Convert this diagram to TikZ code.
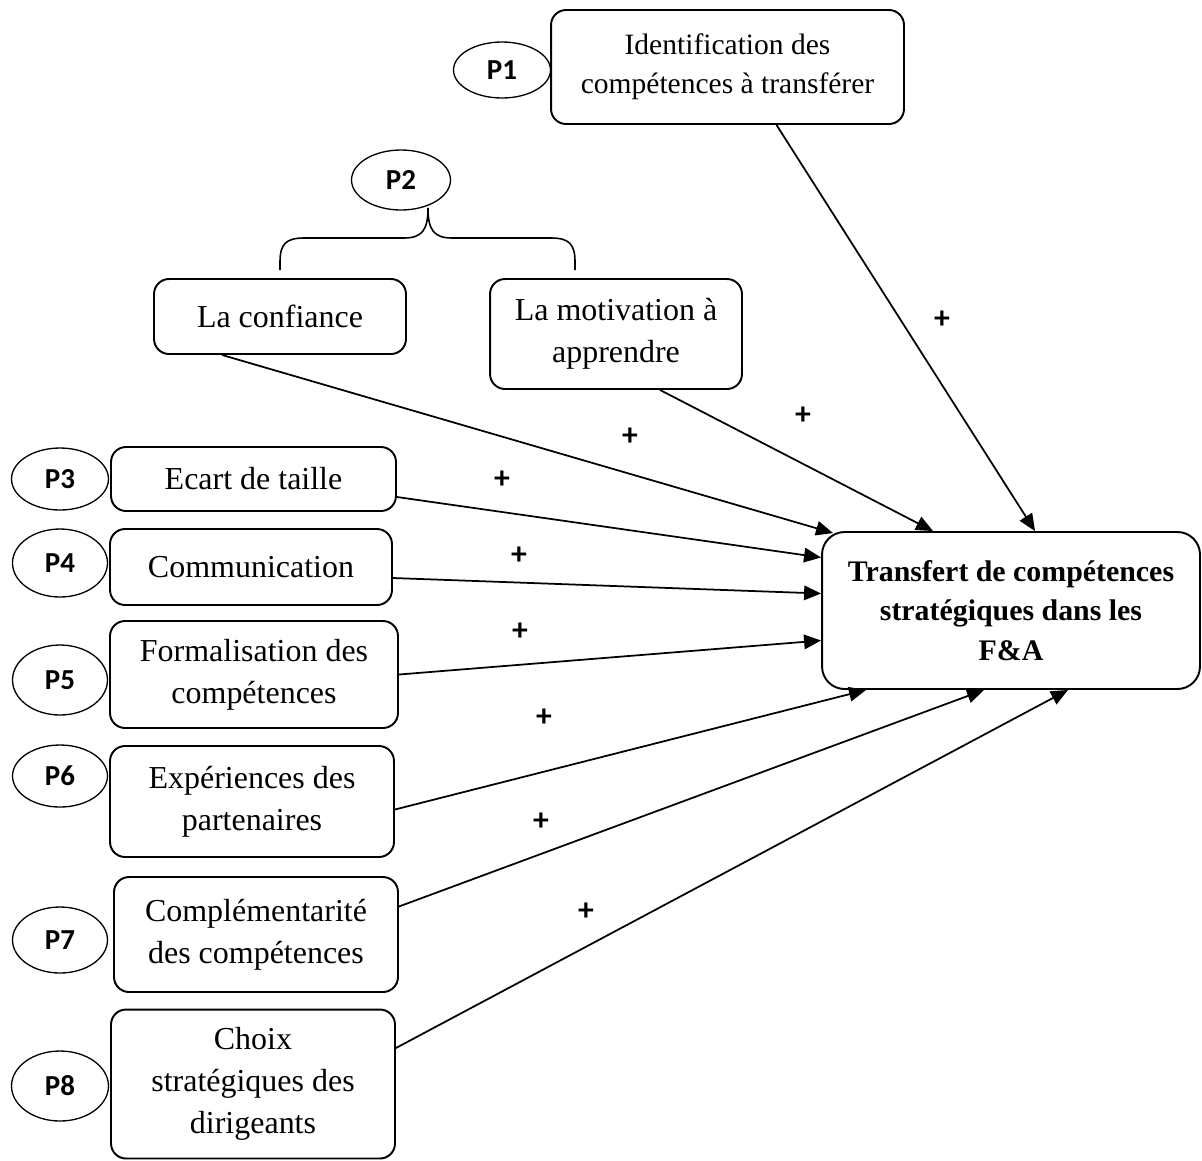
\documentclass[tikz,border=0pt]{standalone}
\usepackage{fontspec}
\setmainfont{Liberation Serif}
\newfontfamily\labfont{Carlito}
\usepackage{tikz}
\usetikzlibrary{positioning,arrows.meta,calc,shapes.geometric}

\begin{document}
\begin{tikzpicture}[
    x=0.02cm, y=-0.02cm,
    box/.style={draw, line width=1.1pt, rounded corners=3mm, align=center, inner sep=2pt, font=\fontsize{18.2}{24}\selectfont},
    goal/.style={box, rounded corners=4.5mm, font=\fontsize{17}{22.7}\selectfont\bfseries},
    tag/.style={draw, ellipse, line width=0.75pt, inner sep=0pt, font=\labfont\fontsize{16.5}{18}\selectfont\bfseries},
    sign/.style={inner sep=0pt, font=\labfont\fontsize{18}{18}\selectfont\bfseries},
    brace/.style={line width=0.9pt},
    arr/.style={-{Triangle[length=3.4mm, width=2.9mm]}, line width=1pt}
]
    \useasboundingbox (0,0) rectangle (1202,1160);

    % Target
    \node[goal, minimum width=7.56cm, minimum height=3.14cm] (target) at (1011,610.5) {Transfert de compétences\\stratégiques dans les\\F\&A};

    % Top factors
    \node[box, minimum width=7.06cm, minimum height=2.28cm, font=\fontsize{16.8}{22}\selectfont] (ident) at (727.5,67) {Identification des\\compétences à transférer};
    \node[tag, minimum width=1.94cm, minimum height=1.12cm] (p1) at (502,70) {P1};

    \node[box, minimum width=5.04cm, minimum height=1.5cm] (confiance) at (280,316.5) {La confiance};
    \node[box, minimum width=5.04cm, minimum height=2.2cm] (motivation) at (616,334) {La motivation à\\apprendre};
    \node[tag, minimum width=1.98cm, minimum height=1.2cm] (p2) at (401,180) {P2};
    \coordinate (brtip) at (428,208);
    \draw[brace] (280,270) -- (280,262) .. controls (280,244) and (286,238) .. (304,238) -- (404,238)
        .. controls (422,238) and (428,230) .. (brtip)
        .. controls (428,230) and (434,238) .. (452,238) -- (551,238)
        .. controls (569,238) and (575,244) .. (575,262) -- (575,270);

    % Left factors
    \node[box, minimum width=5.7cm, minimum height=1.28cm] (ecart) at (253.5,479) {Ecart de taille};
    \node[box, minimum width=5.64cm, minimum height=1.52cm] (comm) at (251,567) {Communication};
    \node[box, minimum width=5.76cm, minimum height=2.14cm] (formal) at (254,674.5) {Formalisation des\\compétences};
    \node[box, minimum width=5.68cm, minimum height=2.22cm] (exper) at (252,801.5) {Expériences des\\partenaires};
    \node[box, minimum width=5.68cm, minimum height=2.3cm] (compl) at (256,934.5) {Complémentarité\\des compétences};
    \node[box, minimum width=5.68cm, minimum height=2.98cm] (choix) at (253,1084) {Choix\\stratégiques des\\dirigeants};

    \node[tag, minimum width=1.94cm, minimum height=1.24cm] (p3) at (60,479) {P3};
    \node[tag, minimum width=1.9cm, minimum height=1.36cm] (p4) at (60,563) {P4};
    \node[tag, minimum width=1.9cm, minimum height=1.4cm] (p5) at (60,680) {P5};
    \node[tag, minimum width=1.9cm, minimum height=1.24cm] (p6) at (60,776) {P6};
    \node[tag, minimum width=1.9cm, minimum height=1.32cm] (p7) at (60,940) {P7};
    \node[tag, minimum width=1.94cm, minimum height=1.4cm] (p8) at (60,1086) {P8};

    % Links
    \draw[arr] ($(ident.south)+(49,0)$) -- ($(target.north)+(24,0)$);
    \draw[arr] ($(motivation.south)+(44,0)$) -- ($(target.north)+(-78,0)$);
    \draw[arr] ($(confiance.south)+(-58,0)$) -- ($(target.north)+(-178,2)$);
    \draw[arr] ($(ecart.east)+(0,18)$) -- ($(target.west)+(0,-53)$);
    \draw[arr] ($(comm.east)+(0,11)$) -- ($(target.west)+(0,-17)$);
    \draw[arr] (formal.east) -- ($(target.west)+(0,30)$);
    \draw[arr] ($(exper.east)+(0,8)$) -- ($(target.south)+(-145,0)$);
    \draw[arr] ($(compl.east)+(0,-28)$) -- ($(target.south)+(-27,0)$);
    \draw[arr] ($(choix.east)+(0,-36)$) -- ($(target.south)+(57,0)$);

    % Signs
    \node[sign] (s1) at (942,320) {+};
    \node[sign] (s2) at (803,416) {+};
    \node[sign] (s3) at (630,437) {+};
    \node[sign] (s4) at (502,480) {+};
    \node[sign] (s5) at (519,556) {+};
    \node[sign] (s6) at (520,632) {+};
    \node[sign] (s7) at (544,718) {+};
    \node[sign] (s8) at (541,822) {+};
    \node[sign] (s9) at (586,912) {+};
\end{tikzpicture}
\end{document}
